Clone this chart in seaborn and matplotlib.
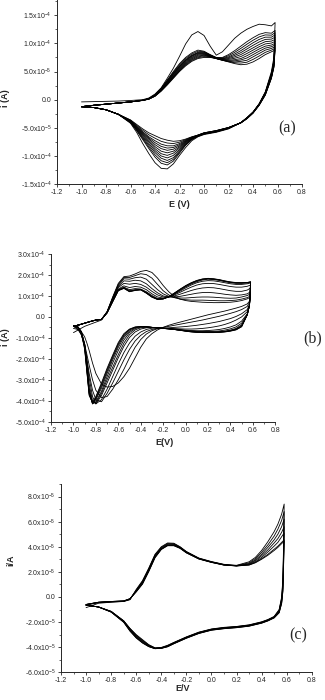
import numpy as np
import pandas as pd
import matplotlib
matplotlib.use('Agg')
import matplotlib.pyplot as plt
import seaborn as sns
from matplotlib.ticker import FixedLocator, MultipleLocator

# ---------------- panel (a), current in 1e-5 A ----------------
a_E_fwd = [-1.0, -0.9, -0.8, -0.7, -0.6, -0.5, -0.45, -0.4, -0.35, -0.3, -0.25, -0.2, -0.15, -0.1,
           -0.05, 0.0, 0.05, 0.1, 0.15, 0.2, 0.25, 0.3, 0.35, 0.4, 0.45, 0.5, 0.55, 0.58]
a_E_rev = [0.58, 0.57, 0.55, 0.5, 0.45, 0.4, 0.35, 0.3, 0.2, 0.1, 0.0, -0.05, -0.1, -0.15, -0.2,
           -0.25, -0.3, -0.35, -0.4, -0.45, -0.5, -0.55, -0.6, -0.7, -0.8, -0.9, -1.0]
a_fwd = [
    [-0.4, -0.35, -0.3, -0.25, -0.15, 0.0, 0.3, 1.0, 2.1, 3.8, 5.6, 7.7, 9.9, 11.5, 12.1, 11.4, 9.5, 7.9, 8.5, 9.7, 10.9, 11.8, 12.5, 13.0, 13.4, 13.3, 13.1, 13.7],
    [-1.25, -1.0, -0.8, -0.6, -0.4, -0.1, 0.2, 0.9, 2.0, 3.5, 5.0, 6.4, 7.5, 8.3, 8.8, 8.6, 8.0, 7.5, 7.5, 8.0, 8.7, 9.5, 10.3, 11.0, 11.6, 11.9, 11.8, 12.3],
    [-1.25, -1.0, -0.8, -0.6, -0.4, -0.1, 0.2, 0.85, 1.95, 3.4, 4.85, 6.2, 7.3, 8.1, 8.6, 8.5, 7.95, 7.45, 7.4, 7.8, 8.4, 9.1, 9.85, 10.55, 11.15, 11.5, 11.45, 11.9],
    [-1.25, -1.0, -0.8, -0.6, -0.4, -0.1, 0.2, 0.8, 1.9, 3.3, 4.7, 6.0, 7.1, 7.9, 8.4, 8.4, 7.9, 7.4, 7.3, 7.6, 8.1, 8.7, 9.4, 10.1, 10.7, 11.1, 11.1, 11.5],
    [-1.25, -1.0, -0.8, -0.6, -0.4, -0.11, 0.17, 0.78, 1.85, 3.2, 4.6, 5.9, 7.0, 7.8, 8.3, 8.3, 7.85, 7.4, 7.25, 7.45, 7.85, 8.35, 9.0, 9.65, 10.25, 10.7, 10.75, 11.1],
    [-1.25, -1.0, -0.8, -0.6, -0.4, -0.12, 0.15, 0.75, 1.8, 3.1, 4.5, 5.8, 6.9, 7.7, 8.2, 8.2, 7.8, 7.4, 7.2, 7.3, 7.6, 8.0, 8.6, 9.2, 9.8, 10.3, 10.4, 10.7],
    [-1.25, -1.0, -0.8, -0.6, -0.4, -0.12, 0.13, 0.72, 1.75, 3.0, 4.35, 5.65, 6.75, 7.55, 8.05, 8.1, 7.75, 7.35, 7.15, 7.15, 7.35, 7.65, 8.2, 8.8, 9.4, 9.9, 10.05, 10.35],
    [-1.25, -1.0, -0.8, -0.6, -0.4, -0.12, 0.12, 0.7, 1.7, 2.9, 4.2, 5.5, 6.6, 7.4, 7.9, 8.0, 7.7, 7.3, 7.1, 7.0, 7.1, 7.3, 7.8, 8.4, 9.0, 9.5, 9.7, 10.0],
    [-1.25, -1.0, -0.8, -0.6, -0.4, -0.12, 0.11, 0.68, 1.65, 2.85, 4.1, 5.35, 6.45, 7.25, 7.75, 7.9, 7.65, 7.3, 7.05, 6.9, 6.9, 7.05, 7.4, 8.0, 8.6, 9.15, 9.4, 9.7],
    [-1.25, -1.0, -0.8, -0.6, -0.4, -0.13, 0.1, 0.65, 1.6, 2.8, 4.0, 5.2, 6.3, 7.1, 7.6, 7.8, 7.6, 7.3, 7.0, 6.8, 6.7, 6.8, 7.0, 7.6, 8.2, 8.8, 9.1, 9.4],
    [-1.25, -1.0, -0.8, -0.6, -0.4, -0.14, 0.1, 0.62, 1.55, 2.7, 3.9, 5.1, 6.15, 6.95, 7.45, 7.65, 7.55, 7.3, 7.0, 6.75, 6.55, 6.5, 6.65, 7.15, 7.75, 8.4, 8.8, 9.1],
    [-1.25, -1.0, -0.8, -0.6, -0.4, -0.15, 0.1, 0.6, 1.5, 2.6, 3.8, 5.0, 6.0, 6.8, 7.3, 7.5, 7.5, 7.3, 7.0, 6.7, 6.4, 6.2, 6.3, 6.7, 7.3, 8.0, 8.5, 8.8],
]
a_rev = [
    [13.7, 7.5, 5.0, 1.4, -0.7, -2.2, -3.2, -4.1, -5.2, -5.8, -6.2, -6.6, -7.3, -8.5, -9.9, -11.4, -12.3, -12.2, -11.2, -9.6, -7.8, -5.8, -4.2, -2.6, -1.8, -1.4, -1.25],
    [12.3, 7.0, 4.7, 1.3, -0.75, -2.2, -3.2, -4.1, -5.1, -5.7, -6.1, -6.5, -7.1, -8.1, -9.5, -10.9, -11.6, -11.3, -10.2, -8.7, -7.1, -5.5, -4.1, -2.6, -1.8, -1.4, -1.25],
    [11.9, 6.85, 4.6, 1.25, -0.78, -2.22, -3.22, -4.1, -5.1, -5.7, -6.1, -6.5, -7.05, -8.0, -9.3, -10.6, -11.2, -10.85, -9.8, -8.4, -6.9, -5.4, -4.05, -2.6, -1.8, -1.4, -1.25],
    [11.5, 6.7, 4.5, 1.2, -0.8, -2.25, -3.25, -4.1, -5.1, -5.7, -6.1, -6.5, -7.0, -7.9, -9.1, -10.3, -10.8, -10.4, -9.4, -8.1, -6.7, -5.3, -4.0, -2.6, -1.8, -1.4, -1.25],
    [11.1, 6.55, 4.4, 1.15, -0.82, -2.27, -3.27, -4.1, -5.05, -5.65, -6.05, -6.45, -6.95, -7.75, -8.85, -9.9, -10.35, -10.0, -9.05, -7.8, -6.5, -5.2, -3.95, -2.6, -1.8, -1.4, -1.25],
    [10.7, 6.4, 4.3, 1.1, -0.85, -2.3, -3.3, -4.1, -5.0, -5.6, -6.0, -6.4, -6.9, -7.6, -8.6, -9.5, -9.9, -9.6, -8.7, -7.5, -6.3, -5.1, -3.9, -2.6, -1.8, -1.4, -1.25],
    [10.35, 6.25, 4.2, 1.05, -0.88, -2.3, -3.3, -4.1, -5.0, -5.6, -6.0, -6.4, -6.85, -7.5, -8.4, -9.15, -9.45, -9.15, -8.35, -7.25, -6.15, -5.0, -3.85, -2.6, -1.8, -1.4, -1.25],
    [10.0, 6.1, 4.1, 1.0, -0.9, -2.3, -3.3, -4.1, -5.0, -5.6, -6.0, -6.4, -6.8, -7.4, -8.2, -8.8, -9.0, -8.7, -8.0, -7.0, -6.0, -4.9, -3.8, -2.6, -1.8, -1.4, -1.25],
    [9.7, 6.0, 4.0, 0.95, -0.92, -2.32, -3.32, -4.1, -4.98, -5.55, -5.95, -6.35, -6.75, -7.3, -8.0, -8.5, -8.6, -8.3, -7.65, -6.8, -5.85, -4.8, -3.75, -2.6, -1.8, -1.4, -1.25],
    [9.4, 5.9, 3.9, 0.9, -0.95, -2.35, -3.35, -4.1, -4.95, -5.5, -5.9, -6.3, -6.7, -7.2, -7.8, -8.2, -8.2, -7.9, -7.3, -6.6, -5.7, -4.7, -3.7, -2.6, -1.8, -1.4, -1.25],
    [9.1, 5.8, 3.85, 0.85, -0.98, -2.38, -3.38, -4.12, -4.95, -5.5, -5.9, -6.3, -6.65, -7.1, -7.55, -7.8, -7.7, -7.4, -6.85, -6.25, -5.45, -4.55, -3.65, -2.6, -1.8, -1.4, -1.25],
    [8.8, 5.7, 3.8, 0.8, -1.0, -2.4, -3.4, -4.15, -4.95, -5.5, -5.9, -6.3, -6.6, -7.0, -7.3, -7.4, -7.2, -6.9, -6.4, -5.9, -5.2, -4.4, -3.6, -2.6, -1.8, -1.4, -1.25],
]
a_yticks = [-1.5e-4, -1.0e-4, -5.0e-5, 0.0, 5.0e-5, 1.0e-4, 1.5e-4]
a_ylabels = ['-1.5x10$^{-4}$', '-1.0x10$^{-4}$', '-5.0x10$^{-5}$', '0.0',
             '5.0x10$^{-5}$', '1.0x10$^{-4}$', '1.5x10$^{-4}$']

# ---------------- panel (b), current in 1e-4 A ----------------
b_E_fwd = [-1.0, -0.95, -0.9, -0.85, -0.8, -0.75, -0.7, -0.65, -0.6, -0.55, -0.5, -0.45, -0.4, -0.35,
           -0.3, -0.25, -0.2, -0.15, -0.1, -0.05, 0.0, 0.05, 0.1, 0.15, 0.2, 0.25, 0.3, 0.35, 0.4,
           0.45, 0.5, 0.55, 0.58]
b_E_rev = [0.58, 0.57, 0.55, 0.5, 0.45, 0.4, 0.35, 0.3, 0.25, 0.2, 0.15, 0.1, 0.05, 0.0, -0.05, -0.1,
           -0.15, -0.2, -0.25, -0.3, -0.35, -0.4, -0.45, -0.5, -0.55, -0.6, -0.65, -0.7, -0.75, -0.8,
           -0.83, -0.86, -0.88, -0.9, -0.93, -0.96, -1.0]
b_fwd = [
    [-0.75, -0.6, -0.45, -0.35, -0.25, -0.15, 0.25, 0.95, 1.6, 1.92, 1.95, 2.05, 2.17, 2.22, 2.12, 1.85, 1.5, 1.2, 0.98, 0.85, 0.78, 0.74, 0.72, 0.7, 0.69, 0.68, 0.68, 0.69, 0.7, 0.73, 0.78, 0.86, 0.95],
    [-0.45, -0.38, -0.3, -0.22, -0.15, -0.12, 0.25, 0.92, 1.55, 1.88, 1.88, 1.97, 2.06, 2.02, 1.85, 1.55, 1.25, 1.05, 0.92, 0.85, 0.82, 0.8, 0.8, 0.8, 0.79, 0.78, 0.77, 0.77, 0.78, 0.8, 0.85, 0.92, 1.0],
    [-0.45, -0.38, -0.3, -0.22, -0.15, -0.12, 0.24, 0.9, 1.5, 1.82, 1.8, 1.87, 1.9, 1.8, 1.55, 1.3, 1.1, 0.98, 0.92, 0.9, 0.9, 0.92, 0.94, 0.95, 0.95, 0.94, 0.92, 0.9, 0.89, 0.9, 0.95, 1.02, 1.1],
    [-0.45, -0.38, -0.3, -0.22, -0.15, -0.12, 0.23, 0.87, 1.45, 1.72, 1.7, 1.75, 1.72, 1.58, 1.35, 1.15, 1.0, 0.95, 0.95, 0.98, 1.03, 1.08, 1.13, 1.16, 1.17, 1.15, 1.12, 1.08, 1.05, 1.03, 1.05, 1.1, 1.2],
    [-0.45, -0.38, -0.3, -0.22, -0.15, -0.12, 0.22, 0.83, 1.4, 1.6, 1.56, 1.6, 1.55, 1.42, 1.22, 1.05, 0.95, 0.95, 1.0, 1.08, 1.17, 1.26, 1.33, 1.38, 1.4, 1.39, 1.35, 1.3, 1.25, 1.22, 1.22, 1.28, 1.38],
    [-0.45, -0.38, -0.3, -0.22, -0.15, -0.12, 0.21, 0.8, 1.33, 1.48, 1.4, 1.45, 1.42, 1.3, 1.1, 0.95, 0.9, 0.95, 1.05, 1.17, 1.3, 1.42, 1.52, 1.58, 1.6, 1.59, 1.55, 1.5, 1.45, 1.42, 1.42, 1.46, 1.52],
    [-0.45, -0.38, -0.3, -0.22, -0.15, -0.12, 0.2, 0.77, 1.3, 1.42, 1.3, 1.35, 1.33, 1.2, 1.02, 0.88, 0.87, 0.95, 1.08, 1.23, 1.38, 1.52, 1.63, 1.7, 1.73, 1.72, 1.68, 1.63, 1.58, 1.55, 1.55, 1.58, 1.62],
    [-0.45, -0.38, -0.3, -0.22, -0.15, -0.12, 0.2, 0.75, 1.28, 1.4, 1.25, 1.3, 1.3, 1.17, 0.98, 0.85, 0.86, 0.95, 1.1, 1.27, 1.43, 1.57, 1.68, 1.76, 1.8, 1.78, 1.74, 1.68, 1.63, 1.6, 1.6, 1.62, 1.65],
    [-0.45, -0.38, -0.3, -0.22, -0.15, -0.12, 0.2, 0.74, 1.27, 1.38, 1.22, 1.28, 1.3, 1.15, 0.96, 0.84, 0.86, 0.96, 1.12, 1.3, 1.46, 1.6, 1.71, 1.79, 1.82, 1.8, 1.76, 1.7, 1.65, 1.62, 1.62, 1.63, 1.66],
    [-0.45, -0.38, -0.3, -0.22, -0.15, -0.12, 0.19, 0.73, 1.26, 1.37, 1.21, 1.27, 1.3, 1.14, 0.95, 0.84, 0.86, 0.97, 1.13, 1.31, 1.48, 1.62, 1.73, 1.8, 1.83, 1.81, 1.77, 1.71, 1.66, 1.63, 1.63, 1.64, 1.67],
    [-0.45, -0.38, -0.3, -0.22, -0.15, -0.12, 0.19, 0.72, 1.25, 1.36, 1.2, 1.26, 1.29, 1.13, 0.94, 0.83, 0.86, 0.97, 1.14, 1.32, 1.49, 1.63, 1.74, 1.81, 1.84, 1.82, 1.78, 1.72, 1.67, 1.64, 1.63, 1.64, 1.68],
]
b_rev = [
    [0.95, 0.75, 0.62, 0.5, 0.42, 0.35, 0.28, 0.22, 0.16, 0.1, 0.03, -0.04, -0.11, -0.18, -0.25, -0.32, -0.4, -0.5, -0.62, -0.8, -1.05, -1.45, -1.95, -2.45, -2.85, -3.15, -3.32, -3.35, -3.2, -2.7, -2.2, -1.6, -1.25, -0.95, -0.7, -0.6, -0.55],
    [1.0, 0.7, 0.5, 0.35, 0.25, 0.17, 0.1, 0.03, -0.03, -0.09, -0.15, -0.2, -0.25, -0.3, -0.35, -0.4, -0.45, -0.5, -0.56, -0.66, -0.82, -1.08, -1.45, -1.95, -2.5, -3.0, -3.45, -3.8, -3.85, -3.5, -3.0, -2.3, -1.8, -1.3, -0.85, -0.6, -0.45],
    [1.1, 0.6, 0.35, 0.15, 0.02, -0.08, -0.15, -0.22, -0.27, -0.32, -0.36, -0.4, -0.43, -0.46, -0.48, -0.5, -0.52, -0.53, -0.55, -0.6, -0.7, -0.88, -1.15, -1.55, -2.05, -2.6, -3.15, -3.65, -4.05, -3.95, -3.5, -2.7, -2.0, -1.4, -0.85, -0.55, -0.45],
    [1.2, 0.55, 0.25, 0.0, -0.15, -0.27, -0.36, -0.43, -0.48, -0.52, -0.55, -0.57, -0.58, -0.58, -0.57, -0.56, -0.55, -0.54, -0.53, -0.54, -0.6, -0.72, -0.92, -1.25, -1.7, -2.25, -2.85, -3.45, -3.95, -4.15, -3.8, -2.9, -2.1, -1.3, -0.75, -0.5, -0.43],
    [1.38, 0.55, 0.15, -0.2, -0.38, -0.48, -0.55, -0.6, -0.63, -0.65, -0.66, -0.66, -0.65, -0.63, -0.6, -0.58, -0.56, -0.54, -0.52, -0.51, -0.52, -0.58, -0.72, -0.98, -1.4, -1.95, -2.55, -3.15, -3.75, -4.15, -4.0, -3.2, -2.2, -1.3, -0.7, -0.48, -0.42],
    [1.52, 0.55, 0.12, -0.3, -0.48, -0.57, -0.63, -0.67, -0.69, -0.7, -0.7, -0.69, -0.67, -0.65, -0.62, -0.59, -0.56, -0.54, -0.52, -0.5, -0.49, -0.52, -0.62, -0.85, -1.25, -1.8, -2.4, -3.0, -3.65, -4.1, -4.1, -3.4, -2.3, -1.3, -0.7, -0.48, -0.42],
    [1.62, 0.55, 0.1, -0.38, -0.55, -0.63, -0.68, -0.71, -0.72, -0.72, -0.72, -0.71, -0.69, -0.66, -0.63, -0.6, -0.57, -0.55, -0.52, -0.5, -0.48, -0.49, -0.56, -0.75, -1.1, -1.6, -2.2, -2.85, -3.55, -4.05, -4.15, -3.5, -2.4, -1.35, -0.7, -0.48, -0.42],
    [1.65, 0.55, 0.1, -0.42, -0.58, -0.65, -0.7, -0.72, -0.73, -0.73, -0.73, -0.72, -0.7, -0.67, -0.63, -0.6, -0.57, -0.55, -0.52, -0.5, -0.47, -0.47, -0.52, -0.68, -0.98, -1.45, -2.05, -2.7, -3.4, -3.95, -4.15, -3.6, -2.5, -1.4, -0.72, -0.48, -0.42],
    [1.66, 0.55, 0.1, -0.45, -0.6, -0.66, -0.7, -0.72, -0.73, -0.73, -0.73, -0.72, -0.7, -0.67, -0.63, -0.6, -0.57, -0.55, -0.52, -0.5, -0.47, -0.46, -0.5, -0.62, -0.9, -1.35, -1.95, -2.6, -3.3, -3.9, -4.12, -3.65, -2.55, -1.45, -0.75, -0.5, -0.42],
    [1.67, 0.55, 0.1, -0.46, -0.61, -0.67, -0.71, -0.73, -0.74, -0.74, -0.74, -0.73, -0.71, -0.68, -0.64, -0.6, -0.57, -0.55, -0.52, -0.5, -0.47, -0.46, -0.49, -0.6, -0.85, -1.28, -1.88, -2.52, -3.22, -3.85, -4.1, -3.7, -2.6, -1.5, -0.77, -0.5, -0.42],
    [1.68, 0.55, 0.1, -0.47, -0.62, -0.68, -0.72, -0.74, -0.75, -0.75, -0.75, -0.74, -0.72, -0.68, -0.64, -0.6, -0.57, -0.55, -0.52, -0.5, -0.47, -0.46, -0.48, -0.58, -0.8, -1.22, -1.82, -2.45, -3.15, -3.8, -4.08, -3.75, -2.65, -1.55, -0.78, -0.5, -0.42],
]
b_yticks = [-5e-4, -4e-4, -3e-4, -2e-4, -1e-4, 0.0, 1e-4, 2e-4, 3e-4]
b_ylabels = ['-5.0x10$^{-4}$', '-4.0x10$^{-4}$', '-3.0x10$^{-4}$', '-2.0x10$^{-4}$', '-1.0x10$^{-4}$',
             '0.0', '1.0x10$^{-4}$', '2.0x10$^{-4}$', '3.0x10$^{-4}$']

# ---------------- panel (c), current in 1e-5 A ----------------
c_E_fwd = [-1.0, -0.9, -0.8, -0.7, -0.65, -0.6, -0.55, -0.5, -0.45, -0.4, -0.35, -0.3, -0.25, -0.2,
           -0.1, 0.0, 0.1, 0.2, 0.3, 0.35, 0.4, 0.45, 0.5, 0.53, 0.56, 0.58]
c_E_rev = [0.58, 0.575, 0.57, 0.56, 0.54, 0.5, 0.45, 0.4, 0.3, 0.2, 0.1, 0.0, -0.1, -0.2, -0.3,
           -0.35, -0.4, -0.45, -0.5, -0.55, -0.6, -0.65, -0.7, -0.8, -0.9, -1.0]
c_fwd = [
    [-0.85, -0.5, -0.42, -0.36, -0.22, 0.6, 1.3, 2.3, 3.4, 4.0, 4.3, 4.28, 4.0, 3.62, 3.1, 2.82, 2.6, 2.52, 2.8, 3.15, 3.7, 4.4, 5.2, 5.8, 6.6, 7.4],
    [-0.65, -0.45, -0.4, -0.35, -0.2, 0.55, 1.25, 2.25, 3.35, 3.95, 4.25, 4.24, 3.97, 3.6, 3.08, 2.8, 2.58, 2.5, 2.72, 3.05, 3.55, 4.15, 4.85, 5.4, 6.1, 6.8],
    [-0.62, -0.44, -0.38, -0.34, -0.18, 0.5, 1.2, 2.2, 3.3, 3.9, 4.2, 4.2, 3.95, 3.58, 3.06, 2.79, 2.57, 2.49, 2.66, 2.95, 3.4, 3.95, 4.55, 5.0, 5.6, 6.2],
    [-0.6, -0.43, -0.37, -0.33, -0.16, 0.48, 1.15, 2.15, 3.25, 3.85, 4.15, 4.16, 3.92, 3.56, 3.05, 2.78, 2.56, 2.48, 2.62, 2.88, 3.28, 3.75, 4.3, 4.65, 5.15, 5.6],
    [-0.6, -0.42, -0.36, -0.32, -0.15, 0.45, 1.1, 2.1, 3.2, 3.82, 4.12, 4.13, 3.9, 3.54, 3.04, 2.77, 2.55, 2.48, 2.58, 2.8, 3.15, 3.58, 4.05, 4.35, 4.8, 5.1],
    [-0.6, -0.42, -0.36, -0.32, -0.14, 0.42, 1.05, 2.05, 3.15, 3.8, 4.1, 4.1, 3.88, 3.52, 3.03, 2.76, 2.54, 2.47, 2.55, 2.75, 3.05, 3.4, 3.8, 4.05, 4.35, 4.55],
    [-0.6, -0.42, -0.36, -0.32, -0.14, 0.4, 1.02, 2.02, 3.12, 3.78, 4.08, 4.08, 3.87, 3.51, 3.02, 2.75, 2.54, 2.47, 2.54, 2.72, 3.0, 3.32, 3.7, 3.95, 4.25, 4.45],
]
c_rev = [
    [7.4, 4.0, 1.5, 0.0, -1.0, -1.55, -1.8, -1.98, -2.22, -2.35, -2.42, -2.55, -2.8, -3.18, -3.62, -3.85, -4.02, -4.05, -3.8, -3.4, -3.0, -2.5, -1.9, -1.15, -0.8, -0.65],
    [6.8, 3.6, 1.3, -0.1, -1.05, -1.58, -1.82, -2.0, -2.24, -2.36, -2.44, -2.57, -2.82, -3.2, -3.64, -3.88, -4.04, -4.07, -3.83, -3.45, -3.05, -2.52, -1.9, -1.15, -0.8, -0.65],
    [6.2, 3.3, 1.1, -0.2, -1.1, -1.6, -1.84, -2.02, -2.26, -2.38, -2.46, -2.58, -2.84, -3.22, -3.66, -3.9, -4.06, -4.09, -3.86, -3.5, -3.1, -2.55, -1.92, -1.15, -0.8, -0.65],
    [5.6, 3.0, 0.9, -0.3, -1.15, -1.62, -1.86, -2.04, -2.28, -2.4, -2.48, -2.6, -2.86, -3.24, -3.68, -3.92, -4.07, -4.1, -3.9, -3.55, -3.15, -2.6, -1.95, -1.18, -0.8, -0.65],
    [5.1, 2.7, 0.7, -0.4, -1.2, -1.64, -1.88, -2.06, -2.3, -2.42, -2.5, -2.62, -2.88, -3.26, -3.7, -3.94, -4.08, -4.11, -3.93, -3.6, -3.2, -2.65, -1.98, -1.2, -0.8, -0.65],
    [4.55, 2.4, 0.5, -0.5, -1.25, -1.66, -1.9, -2.08, -2.32, -2.44, -2.52, -2.64, -2.9, -3.28, -3.72, -3.96, -4.09, -4.12, -3.95, -3.65, -3.25, -2.7, -2.0, -1.2, -0.8, -0.65],
    [4.45, 2.3, 0.45, -0.52, -1.26, -1.67, -1.91, -2.09, -2.33, -2.45, -2.53, -2.65, -2.91, -3.29, -3.73, -3.97, -4.1, -4.12, -3.96, -3.67, -3.27, -2.72, -2.02, -1.2, -0.8, -0.65],
]
c_yticks = [-6e-5, -4e-5, -2e-5, 0.0, 2e-5, 4e-5, 6e-5, 8e-5]
c_ylabels = ['-6.0x10$^{-5}$', '-4.0x10$^{-5}$', '-2.0x10$^{-5}$', '0.0',
             '2.0x10$^{-5}$', '4.0x10$^{-5}$', '6.0x10$^{-5}$', '8.0x10$^{-5}$']

x_ticks = [-1.2, -1.0, -0.8, -0.6, -0.4, -0.2, 0.0, 0.2, 0.4, 0.6, 0.8]
x_labels = ['-1.2', '-1.0', '-0.8', '-0.6', '-0.4', '-0.2', '0.0', '0.2', '0.4', '0.6', '0.8']


def build(E_fwd, E_rev, fwd, rev, scale):
    parts = []
    for k, (f, r) in enumerate(zip(fwd, rev)):
        parts.append(pd.DataFrame({'E': list(E_fwd) + list(E_rev),
                                   'i': np.array(list(f) + list(r)) * scale,
                                   'cycle': k}))
    return pd.concat(parts, ignore_index=True)


sns.set_style('ticks')
plt.rcParams['font.family'] = ['Liberation Sans', 'DejaVu Sans']
plt.rcParams['mathtext.fontset'] = 'custom'
plt.rcParams['mathtext.rm'] = 'Liberation Sans'
plt.rcParams['mathtext.it'] = 'Liberation Sans'

fig = plt.figure(figsize=(3.25, 7.0), dpi=100)

# (rect in figure fraction, ylim, yticks, labels, minor step, data, xlabel, ylabel, label coords)
panels = [
    ([0.1754, 0.737, 0.754, 0.263], (-1.5e-4, 1.77e-4), a_yticks, a_ylabels, 2.5e-5,
     build(a_E_fwd, a_E_rev, a_fwd, a_rev, 1e-5), 'E (V)', 'i (A)', (0.50, -0.085), (-0.19, 0.467)),
    ([0.157, 0.3976, 0.690, 0.2395], (-5e-4, 3e-4), b_yticks, b_ylabels, 5e-5,
     build(b_E_fwd, b_E_rev, b_fwd, b_rev, 1e-4), 'E(V)', 'i (A)', (0.508, -0.095), (-0.185, 0.505)),
    ([0.1877, 0.0396, 0.7715, 0.269], (-6e-5, 9e-5), c_yticks, c_ylabels, 1e-5,
     build(c_E_fwd, c_E_rev, c_fwd, c_rev, 1e-5), 'E/V', 'i/A', (0.485, -0.06), (-0.183, 0.596)),
]

for rect, ylim, yt, yl, ymin, df, xlab, ylab, xlc, ylc in panels:
    ax = fig.add_axes(rect)
    sns.lineplot(data=df, x='E', y='i', units='cycle', estimator=None, sort=False,
                 color='black', lw=0.6, ax=ax, legend=False)
    ax.set_xlim(-1.2, 0.8)
    ax.set_ylim(*ylim)
    ax.xaxis.set_major_locator(FixedLocator(x_ticks))
    ax.set_xticklabels(x_labels)
    ax.xaxis.set_minor_locator(MultipleLocator(0.1))
    ax.yaxis.set_major_locator(FixedLocator(yt))
    ax.set_yticklabels(yl)
    ax.yaxis.set_minor_locator(MultipleLocator(ymin))
    ax.tick_params(which='major', direction='out', length=2.2, width=0.6, labelsize=5, pad=1.5)
    ax.tick_params(which='minor', direction='out', length=1.2, width=0.5)
    sns.despine(ax=ax)
    for s in ('left', 'bottom'):
        ax.spines[s].set_linewidth(0.7)
    ax.set_xlabel(xlab, fontsize=6.5, fontweight='bold')
    ax.set_ylabel(ylab, fontsize=6.5, fontweight='bold')
    ax.xaxis.set_label_coords(*xlc)
    ax.yaxis.set_label_coords(*ylc)

fig.text(287 / 325, 1 - 128 / 700, '(a)', family='Liberation Serif', fontsize=11.5, ha='center', va='center')
fig.text(313 / 325, 1 - 338 / 700, '(b)', family='Liberation Serif', fontsize=11.5, ha='center', va='center')
fig.text(298 / 325, 1 - 635 / 700, '(c)', family='Liberation Serif', fontsize=11.5, ha='center', va='center')

fig.savefig('out.png', dpi=100)
